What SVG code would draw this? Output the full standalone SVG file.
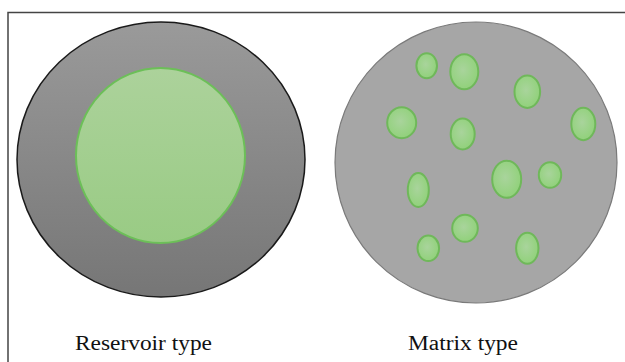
<svg xmlns="http://www.w3.org/2000/svg" width="625" height="362" viewBox="0 0 625 362">
<defs>
<linearGradient id="gOuter" x1="0" y1="0" x2="0" y2="1">
<stop offset="0" stop-color="#9a9a9a"/>
<stop offset="1" stop-color="#767676"/>
</linearGradient>
<linearGradient id="gCore" x1="0" y1="0" x2="0" y2="1">
<stop offset="0" stop-color="#acd29b"/>
<stop offset="1" stop-color="#99cb84"/>
</linearGradient>
<radialGradient id="gBlob" cx="0.45" cy="0.45" r="0.6">
<stop offset="0" stop-color="#a9d49c"/>
<stop offset="1" stop-color="#8fd178"/>
</radialGradient>
</defs>
<style>
.frame{fill:none;stroke:#444;stroke-width:1.5}
.blob{fill:url(#gBlob);stroke:#6fb85a;stroke-width:2}
.label{font-size:20px;fill:#111}
</style>
<rect width="625" height="362" fill="#fff"/>
<path class="frame" d="M8 362 V12.5 H625"/>
<g id="reservoir">
<ellipse cx="161" cy="159.5" rx="144" ry="137.5" fill="url(#gOuter)" stroke="#1a1a1a" stroke-width="1.5"/>
<ellipse cx="160.5" cy="155.5" rx="84.5" ry="87.5" fill="url(#gCore)" stroke="#6cbf58" stroke-width="2"/>
</g>
<g id="matrix">
<ellipse cx="476" cy="162.5" rx="141" ry="140.5" fill="#a6a6a6" stroke="#7a7a7a" stroke-width="1.2"/>
<ellipse class="blob" cx="426.7" cy="65.7" rx="10.3" ry="12.5"/>
<ellipse class="blob" cx="464.3" cy="71.7" rx="14" ry="17.5"/>
<ellipse class="blob" cx="527.3" cy="91.7" rx="12.8" ry="16.2"/>
<ellipse class="blob" cx="401.7" cy="122.7" rx="14.5" ry="15.5"/>
<ellipse class="blob" cx="462.7" cy="134" rx="12" ry="15.5"/>
<ellipse class="blob" cx="583.3" cy="124" rx="12" ry="16.2"/>
<ellipse class="blob" cx="418.3" cy="190" rx="10.5" ry="17"/>
<ellipse class="blob" cx="506.7" cy="179.3" rx="14.5" ry="18.5"/>
<ellipse class="blob" cx="550" cy="175" rx="11.2" ry="12.8"/>
<ellipse class="blob" cx="465" cy="228.3" rx="12.8" ry="13.5"/>
<ellipse class="blob" cx="428.3" cy="248.3" rx="10.8" ry="12.8"/>
<ellipse class="blob" cx="527.3" cy="248.3" rx="11.2" ry="15.5"/>
</g>
<text class="label" font-family="'Liberation Serif', 'Times New Roman', serif" x="75" y="350" textLength="137" lengthAdjust="spacingAndGlyphs">Reservoir type</text>
<text class="label" font-family="'Liberation Serif', 'Times New Roman', serif" x="408" y="350" textLength="110" lengthAdjust="spacingAndGlyphs">Matrix type</text>
</svg>
